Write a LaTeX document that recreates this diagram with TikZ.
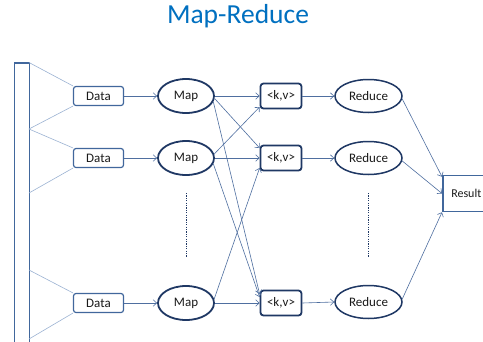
\documentclass[tikz,border=0pt]{standalone}
\usepackage{fontspec}
\setmainfont{Carlito}
\usetikzlibrary{arrows.meta,shapes.geometric,calc}
\definecolor{ttl}{HTML}{0070C0}
\definecolor{navy}{HTML}{1F3864}
\definecolor{mid}{HTML}{41679C}
\definecolor{ln}{HTML}{4F6FA0}
\definecolor{lt}{HTML}{9CB3D3}
\definecolor{txt}{HTML}{1A1A1A}
\begin{document}
\begin{tikzpicture}[x=1pt,y=-1pt,
  lbl/.style={font=\fontsize{13}{15}\selectfont, text=txt},
  databox/.style={lbl, draw=mid, line width=1.2pt, rounded corners=2.5pt, minimum width=50pt, minimum height=19pt, inner sep=0pt},
  mapnode/.style={lbl, draw=navy, line width=1.8pt, ellipse, minimum width=56pt, minimum height=34pt, inner sep=0pt},
  kvbox/.style={lbl, draw=navy, line width=1.8pt, rounded corners=3pt, minimum width=41pt, minimum height=25pt, inner sep=0pt},
  rednode/.style={lbl, draw=navy, line width=1.5pt, ellipse, minimum width=67pt, minimum height=33pt, inner sep=0pt},
  resbox/.style={lbl, font=\fontsize{12}{14}\selectfont, draw=mid, line width=1.5pt, minimum height=36pt, text width=52pt, align=left, inner xsep=8.5pt, inner ysep=0pt},
  conn/.style={draw=ln, line width=0.6pt, -{Straight Barb[length=3.5pt,width=6.5pt]}},
  feed/.style={draw=lt, line width=0.6pt},
  dots/.style={draw=navy, line width=0.6pt, dash pattern=on 1.2pt off 1.2pt}]
\clip (0,0) rectangle (483,341);
\fill[white] (0,0) rectangle (483,341);

\node[font=\fontsize{27.5}{30}\selectfont, text=ttl] (title) at (238,16) {Map-Reduce};

% input bar
\node[draw=mid, line width=1.6pt, minimum width=15pt, minimum height=300pt, inner sep=0pt, anchor=north west] (bar) at (13.5,62) {};
\coordinate (b1) at (29,62.5);
\coordinate (b2) at (29,129);
\coordinate (b3) at (29,193);
\coordinate (b4) at (29,270);
\coordinate (b5) at (29,339);

% data
\node[databox] (d1) at (98.5,96) {Data};
\node[databox] (d2) at (98.5,158) {Data};
\node[databox] (d3) at (98.5,303) {Data};

\draw[feed] (b1) -- (d1.north west);
\draw[feed] (d1.south west) -- (b2) -- (d2.north west);
\draw[feed] (d2.south west) -- (b3);
\draw[feed] (b4) -- (d3.north west);
\draw[feed] (d3.south west) -- (b5);

% map
\node[mapnode] (m1) at (186,96) {Map};
\node[mapnode] (m2) at (186,158) {Map};
\node[mapnode] (m3) at (186,303) {Map};

% kv
\node[kvbox] (k1) at (281,96) {<k,v>};
\node[kvbox] (k2) at (281,158) {<k,v>};
\node[kvbox] (k3) at (281,303) {<k,v>};

% reduce
\node[rednode] (r1) at (368.5,96) {Reduce};
\node[rednode] (r2) at (368.5,158) {Reduce};
\node[rednode] (r3) at (368.5,302) {Reduce};

% result
\node[resbox, anchor=west] (res) at (442,193.5) {Result};

% dotted continuation
\coordinate (dm1) at (186,193);
\coordinate (dm2) at (186,257);
\coordinate (dr1) at (368,193);
\coordinate (dr2) at (368,257);
\draw[dots] (dm1) -- (dm2);
\draw[dots] (dr1) -- (dr2);

% data -> map
\draw[conn] (d1.east) -- (m1.west);
\draw[conn] (d2.east) -- (m2.west);
\draw[conn] (d3.east) -- (m3.west);

% map -> kv
\draw[conn] (m1.east) -- (k1.west);
\draw[conn] (m2.east) -- (k2.west);
\draw[conn] (m3.east) -- (k3.west);
\draw[conn] (m1.-5) -- ($(k2.west)+(0,-10)$);
\draw[conn] (m1.-12) -- ($(k3.west)+(0,-9)$);
\draw[conn] (m2.8) -- ($(k1.west)+(0,11)$);
\draw[conn] (m2.-12) -- ($(k3.west)+(0,-6)$);
\draw[conn] (m3.8) -- ($(k2.west)+(0,10)$);

% kv -> reduce
\draw[conn] (k1.east) -- (r1.west);
\draw[conn] (k2.east) -- (r2.west);
\draw[conn] (k3.east) -- (r3.west);

% reduce -> result
\draw[conn] (r1.-5) -- ($(res.north west)+(0,2)$);
\draw[conn] (r2.-5) -- (res.west);
\draw[conn] (r3.5) -- (res.south west);
\end{tikzpicture}
\end{document}
